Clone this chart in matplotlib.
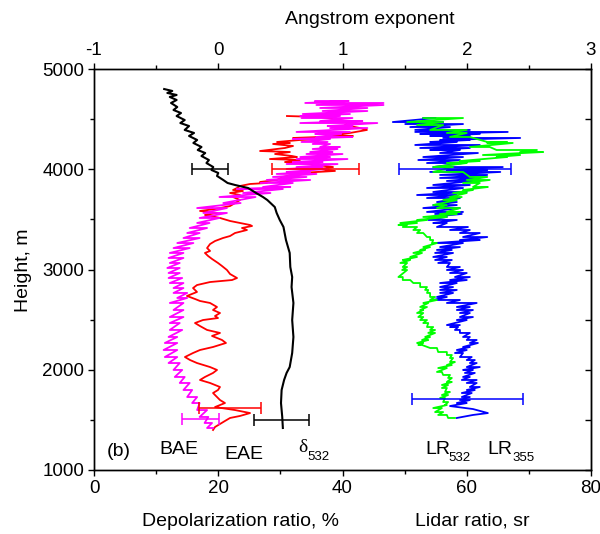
import numpy as np
import matplotlib
matplotlib.use('Agg')
import matplotlib.pyplot as plt
from matplotlib.ticker import MultipleLocator

plt.rcParams['font.family'] = 'Liberation Sans'
plt.rcParams['axes.unicode_minus'] = False

# --- data ---
# depolarization ratio delta_532, %
dep_h = [4800, 4781, 4761, 4741, 4721, 4691, 4661, 4621, 4591, 4561, 4531, 4491, 4461, 4431,
         4392, 4362, 4332, 4292, 4262, 4222, 4192, 4162, 4132, 4092, 4062, 4022, 3993, 3963,
         3933, 3893, 3863, 3843, 3813, 3763, 3723, 3693, 3623, 3564, 3494, 3424, 3294, 3165,
         3025, 2925, 2825, 2666, 2496, 2327, 2167, 2027, 1968, 1898, 1798, 1668, 1529, 1419]
dep_v = [11.3, 12.6, 11.8, 13.3, 12.2, 13.3, 12.4, 13.4, 12.8, 14.0, 13.3, 14.6, 13.9, 15.3,
         14.6, 16.1, 15.3, 16.6, 16.0, 17.3, 16.7, 17.9, 17.3, 18.5, 18.1, 19.2, 18.9, 20.0,
         19.8, 20.8, 21.5, 22.7, 24.8, 26.1, 27.2, 27.9, 29.1, 29.4, 29.9, 30.5, 30.9, 31.5,
         31.6, 31.9, 31.8, 32.1, 31.9, 32.1, 31.9, 31.5, 31.0, 30.6, 30.2, 30.1, 30.3, 30.4]

# extinction-related Angstrom exponent (EAE)
eae_h = [4531, 4521, 4501, 4471, 4441, 4411, 4392, 4362, 4342, 4332, 4322, 4312, 4302, 4292,
         4272, 4262, 4252, 4232, 4212, 4182, 4172, 4152, 4132, 4122, 4102, 4092, 4072, 4052,
         4022, 4003, 3983, 3963, 3923, 3893, 3873, 3863, 3853, 3833, 3813, 3793, 3783, 3763,
         3743, 3723, 3693, 3663, 3633, 3603, 3584, 3564, 3544, 3514, 3484, 3464, 3444, 3434,
         3414, 3394, 3364, 3334, 3314, 3284, 3254, 3214, 3185, 3165, 3135, 3105, 3065, 3035,
         2995, 2955, 2915, 2895, 2875, 2845, 2815, 2776, 2736, 2706, 2686, 2666, 2626, 2596,
         2566, 2536, 2516, 2496, 2466, 2436, 2397, 2367, 2337, 2297, 2267, 2227, 2197, 2167,
         2127, 2097, 2067, 2027, 1998, 1968, 1928, 1898, 1868, 1828, 1798, 1768, 1728, 1698,
         1668, 1628, 1598, 1568, 1539, 1519, 1489, 1459, 1429, 1399]
eae_v = [0.553, 0.819, 0.940, 1.060, 1.020, 1.141, 1.197, 1.060, 0.899, 1.084, 0.819, 0.602,
         0.875, 0.658, 0.473, 0.577, 0.441, 0.602, 0.537, 0.336, 0.577, 0.457, 0.594, 0.634,
         0.416, 0.658, 0.537, 0.738, 0.924, 0.819, 0.940, 0.658, 0.521, 0.473, 0.336, 0.392,
         0.256, 0.175, 0.151, 0.119, 0.199, 0.095, 0.175, 0.119, 0.175, 0.135, 0.095, -0.026,
         -0.147, -0.010, -0.107, 0.014, 0.095, 0.175, 0.256, 0.272, 0.191, 0.231, 0.135, 0.095,
         0.038, -0.026, -0.066, -0.090, -0.066, -0.107, -0.082, -0.050, -0.002, 0.030, 0.070,
         0.095, 0.151, 0.111, -0.066, -0.171, -0.203, -0.171, -0.252, -0.187, -0.147, -0.066,
         -0.010, -0.042, 0.014, -0.026, -0.002, -0.123, -0.187, -0.147, -0.090, 0.014, -0.050,
         0.030, 0.062, -0.042, -0.147, -0.203, -0.268, -0.227, -0.171, -0.066, -0.010, -0.042,
         -0.107, -0.147, -0.066, 0.014, -0.002, -0.042, -0.010, 0.014, 0.054, -0.026, 0.135,
         0.256, 0.175, 0.095, 0.054, 0.014, -0.026, -0.042]

# backscatter-related Angstrom exponent (BAE): noisy, low / high edge per level
bae_h = [4681, 4661, 4641, 4611, 4581, 4551, 4531, 4511, 4481, 4461, 4431,
         4411, 4372, 4352, 4322, 4302, 4272, 4252, 4222, 4202, 4172,
         4152, 4122, 4102, 4072, 4052, 4022, 4003, 3973, 3953, 3923,
         3893, 3863, 3823, 3803, 3763, 3723, 3663, 3613, 3564, 3514,
         3464, 3414, 3364, 3314, 3264, 3214, 3165, 3115, 3065, 3015,
         2965, 2915, 2865, 2815, 2766, 2716, 2666, 2596, 2526, 2466,
         2397, 2327, 2267, 2197, 2127, 2067, 1998, 1928, 1868, 1798,
         1728, 1668, 1598, 1529, 1469, 1419]
bae_lo = [0.78, 0.70, 0.79, 0.82, 0.84, 0.68, 0.66, 0.67, 0.82, 0.66, 0.88,
          0.90, 0.63, 0.78, 0.79, 0.60, 0.67, 0.76, 0.82, 0.76, 0.74,
          0.71, 0.66, 0.63, 0.60, 0.55, 0.63, 0.55, 0.55, 0.47, 0.44,
          0.39, 0.34, 0.36, 0.15, 0.20, 0.01, 0.04, -0.17, -0.12, -0.15,
          -0.17, -0.23, -0.25, -0.28, -0.33, -0.36, -0.39, -0.40, -0.39, -0.41,
          -0.40, -0.40, -0.39, -0.36, -0.36, -0.33, -0.39, -0.36, -0.39, -0.39,
          -0.39, -0.40, -0.43, -0.44, -0.43, -0.40, -0.36, -0.35, -0.31, -0.28,
          -0.25, -0.21, -0.17, -0.15, -0.11, -0.09]
bae_hi = [1.05, 1.33, 1.33, 1.20, 1.20, 1.06, 0.98, 1.08, 1.16, 1.28, 1.08,
          1.20, 1.06, 0.99, 1.08, 0.90, 0.88, 0.90, 0.98, 0.96, 0.92,
          1.00, 0.90, 1.04, 0.84, 0.96, 0.84, 0.88, 0.74, 0.79, 0.71,
          0.74, 0.60, 0.58, 0.52, 0.42, 0.30, 0.18, 0.07, 0.07, 0.01,
          -0.07, -0.09, -0.15, -0.15, -0.20, -0.23, -0.28, -0.28, -0.31, -0.31,
          -0.31, -0.29, -0.28, -0.28, -0.25, -0.25, -0.28, -0.28, -0.28, -0.31,
          -0.29, -0.33, -0.33, -0.33, -0.33, -0.31, -0.29, -0.27, -0.23, -0.21,
          -0.17, -0.15, -0.09, -0.08, -0.05, -0.04]

# lidar ratio at 355 nm, sr
lr355_h = [4511, 4471, 4451, 4421, 4392, 4372, 4352, 4332, 4312, 4292,
           4272, 4242, 4212, 4192, 4162, 4122, 4092, 4062, 4022, 3993,
           3973, 3943, 3913, 3883, 3843, 3813, 3773, 3743, 3713, 3673,
           3643, 3613, 3574, 3554, 3524, 3494, 3464, 3424, 3394, 3364,
           3324, 3294, 3264, 3224, 3195, 3165, 3125, 3095, 3065, 3025,
           2995, 2965, 2925, 2895, 2865, 2825, 2796, 2766, 2726, 2696,
           2666, 2626, 2596, 2566, 2526, 2496, 2446, 2426, 2397, 2367,
           2327, 2297, 2267, 2227, 2197, 2167, 2127, 2097, 2067, 2027,
           1998, 1968, 1928, 1898, 1868, 1828, 1798, 1768, 1728, 1698,
           1668, 1638, 1608, 1568, 1549, 1519]
lr355_lo = [53.0, 48.1, 50.1, 50.9, 51.7, 51.7, 52.5, 54.1, 56.2, 55.7,
            54.1, 51.7, 52.5, 54.1, 55.7, 53.0, 52.2, 53.6, 54.6, 56.8,
            54.1, 55.7, 55.7, 56.8, 54.6, 53.6, 54.6, 52.0, 53.6, 55.2,
            54.6, 53.0, 53.6, 54.9, 54.1, 53.8, 54.6, 55.2, 57.3, 58.9,
            59.4, 58.9, 54.9, 55.7, 55.2, 54.9, 54.6, 54.9, 55.4, 56.8,
            56.8, 57.3, 58.1, 57.3, 55.7, 55.7, 55.7, 55.7, 55.2, 54.6,
            56.8, 58.4, 58.4, 58.9, 58.9, 58.4, 56.8, 57.3, 58.1, 58.9,
            59.4, 60.0, 60.5, 59.4, 58.4, 58.1, 58.9, 60.0, 60.5, 60.0,
            59.4, 59.7, 59.4, 59.2, 60.0, 60.5, 60.0, 59.2, 59.2, 58.9,
            58.4, 57.3, 61.0, 63.4, 61.0, 58.4]
lr355_hi = [55.0, 56.2, 59.4, 57.3, 60.5, 66.6, 62.1, 60.5, 68.6, 60.5,
            58.4, 62.1, 60.5, 58.9, 61.8, 59.4, 58.9, 59.4, 65.8, 63.3,
            65.4, 63.3, 62.1, 61.0, 60.5, 59.4, 60.0, 58.4, 58.9, 58.4,
            58.4, 58.9, 59.4, 59.2, 56.8, 58.4, 56.8, 60.2, 60.5, 62.1,
            63.3, 62.1, 59.4, 58.9, 57.6, 57.8, 56.8, 57.6, 57.3, 58.9,
            59.4, 60.0, 60.5, 60.0, 58.4, 57.8, 58.4, 57.8, 56.8, 58.9,
            61.6, 60.5, 61.0, 60.5, 61.0, 60.0, 58.9, 58.6, 58.9, 60.5,
            60.5, 61.6, 61.8, 60.5, 60.0, 59.4, 60.8, 61.3, 61.6, 62.1,
            61.0, 61.3, 60.5, 61.6, 61.6, 62.1, 61.3, 60.8, 60.5, 60.5,
            60.0, 57.3, 61.0, 63.4, 61.0, 58.4]

# lidar ratio at 532 nm, sr
lr532_h = [4511, 4471, 4441, 4392, 4362, 4322, 4272, 4262, 4222, 4192,
           4172, 4142, 4122, 4082, 4062, 4022, 3973, 3923, 3893, 3863,
           3823, 3793, 3763, 3723, 3693, 3643, 3613, 3574, 3554, 3524,
           3494, 3464, 3444, 3424, 3394, 3364, 3324, 3294, 3264, 3224,
           3195, 3165, 3125, 3095, 3065, 3025, 2995, 2925, 2895, 2865,
           2825, 2796, 2766, 2726, 2696, 2666, 2626, 2596, 2566, 2526,
           2496, 2466, 2426, 2397, 2367, 2327, 2297, 2267, 2247, 2217,
           2177, 2147, 2117, 2077, 2047, 2017, 1978, 1948, 1918, 1878,
           1848, 1818, 1778, 1748, 1718, 1678, 1648, 1618, 1578, 1549, 1519]
lr532_lo = [53.0, 50.4, 52.0, 54.1, 56.8, 57.3, 63.3, 63.3, 60.5, 64.8,
            68.6, 62.6, 64.8, 58.9, 56.8, 54.6, 54.6, 60.5, 60.0, 59.4,
            61.0, 59.4, 57.8, 57.3, 56.2, 54.6, 55.2, 56.8, 55.7, 53.0,
            52.0, 49.3, 49.0, 49.7, 51.4, 52.0, 53.6, 54.1, 54.4, 53.0,
            52.5, 51.4, 50.9, 49.7, 49.3, 49.7, 49.6, 49.0, 49.7, 51.4,
            52.5, 53.3, 53.6, 54.1, 54.1, 53.0, 52.5, 52.5, 52.0, 52.2,
            52.5, 53.0, 53.6, 54.1, 53.8, 53.3, 52.8, 52.0, 52.2, 54.1,
            55.4, 56.8, 57.3, 57.3, 56.8, 55.4, 55.2, 56.2, 57.0, 56.8,
            56.0, 56.0, 56.5, 56.0, 55.7, 56.2, 56.5, 54.6, 54.9, 55.4, 57.0]
lr532_hi = [59.4, 56.2, 56.2, 60.0, 60.0, 60.5, 66.5, 67.4, 63.7, 71.3,
            72.3, 68.6, 66.5, 62.1, 60.0, 57.8, 59.4, 63.3, 63.7, 62.1,
            63.4, 61.0, 60.0, 59.2, 58.4, 56.8, 58.9, 58.9, 58.4, 56.8,
            53.6, 52.0, 50.4, 52.0, 52.5, 53.0, 54.1, 54.6, 55.2, 54.1,
            53.3, 52.8, 52.0, 50.9, 50.4, 50.4, 50.4, 49.7, 50.9, 52.5,
            53.6, 53.8, 54.1, 54.9, 55.2, 53.8, 53.6, 53.0, 53.0, 53.0,
            53.6, 53.8, 54.6, 54.9, 54.9, 54.1, 53.8, 53.0, 52.8, 55.2,
            56.8, 57.6, 57.8, 58.1, 57.6, 56.8, 56.0, 57.3, 57.6, 57.6,
            57.0, 56.8, 57.3, 57.0, 56.5, 57.0, 56.8, 56.0, 56.2, 56.8, 58.1]

# error bars: height, value, half width
dep_err_h = [4003, 1499]
dep_err_v = [18.7, 30.2]
dep_err_x = [2.9, 4.4]
lr355_err_h = [4003, 1708]
lr355_err_v = [58.1, 60.1]
lr355_err_x = [9.0, 8.9]
eae_err_h = [4003, 1618]
eae_err_v = [0.78, 0.095]
eae_err_x = [0.35, 0.25]
bae_err_h = [1505]
bae_err_v = [-0.14]
bae_err_x = [0.15]


def zigzag(h, lo, hi):
    # noisy profile: go lo -> hi at each level
    return np.column_stack([lo, hi]).ravel(), np.repeat(h, 2)


fig = plt.figure(figsize=(6, 5.34), dpi=100)
ax = fig.add_axes([94 / 600, 1 - 470 / 534, 497 / 600, 401 / 534])
ax2 = ax.twiny()
ax.set_zorder(ax2.get_zorder() + 1)
ax.patch.set_visible(False)

lw = 1.3
eb = dict(fmt='none', elinewidth=1.1, capsize=4, capthick=1.1)
# Angstrom exponents on the top axis
ax2.plot(eae_v, eae_h, color='#ff0000', lw=lw)
x, y = zigzag(bae_h, bae_lo, bae_hi)
ax2.plot(x, y, color='#ff00ff', lw=lw)
ax2.errorbar(eae_err_v, eae_err_h, xerr=eae_err_x, ecolor='#ff0000', **eb)
ax2.errorbar(bae_err_v, bae_err_h, xerr=bae_err_x, ecolor='#ff00ff', **eb)

# depolarization and lidar ratios on the bottom axis
x, y = zigzag(lr355_h, lr355_lo, lr355_hi)
ax.plot(x, y, color='#0000ff', lw=lw)
x, y = zigzag(lr532_h, lr532_lo, lr532_hi)
ax.plot(x, y, color='#00ff00', lw=lw)
ax.plot(dep_v, dep_h, color='black', lw=1.5)
ax.errorbar(dep_err_v, dep_err_h, xerr=dep_err_x, ecolor='black', **eb)
ax.errorbar(lr355_err_v, lr355_err_h, xerr=lr355_err_x, ecolor='#0000ff', **eb)

ax.set_xlim(0, 80)
ax.set_ylim(1000, 5000)
ax2.set_xlim(-1, 3)

ax.xaxis.set_major_locator(MultipleLocator(20))
ax.xaxis.set_minor_locator(MultipleLocator(10))
ax.yaxis.set_major_locator(MultipleLocator(1000))
ax.yaxis.set_minor_locator(MultipleLocator(500))
ax2.xaxis.set_major_locator(MultipleLocator(1))
ax2.xaxis.set_minor_locator(MultipleLocator(0.5))

for a in (ax, ax2):
    for s in a.spines.values():
        s.set_linewidth(1.0)
ax.tick_params(which='both', direction='out', top=False, right=False, labelsize=13.5, width=1.0)
ax.tick_params(which='major', length=4, pad=3)
ax.tick_params(which='minor', length=3)
ax2.tick_params(which='both', direction='out', labelsize=13.5, width=1.0)
ax2.tick_params(which='major', length=4, pad=3)
ax2.tick_params(which='minor', length=3)

sec = ax.secondary_yaxis('right')
sec.yaxis.set_major_locator(MultipleLocator(1000))
sec.yaxis.set_minor_locator(MultipleLocator(500))
sec.tick_params(which='both', direction='in', labelright=False, length=4, width=1.0)

# labels
fig.text(24 / 600, 1 - 270 / 534, 'Height, m', rotation=90, fontsize=14, ha='center', va='center')
fig.text(241 / 600, 1 - 521 / 534, 'Depolarization ratio, %', fontsize=14, ha='center', va='center')
fig.text(472 / 600, 1 - 521 / 534, 'Lidar ratio, sr', fontsize=14, ha='center', va='center')
fig.text(370 / 600, 1 - 19 / 534, 'Angstrom exponent', fontsize=14, ha='center', va='center')

ax.text(2.1, 1180, '(b)', fontsize=14, va='center')
ax.text(13.7, 1200, 'BAE', fontsize=14, ha='center', va='center')
ax.text(24.1, 1150, 'EAE', fontsize=14, ha='center', va='center')
ax.text(32.8, 1220, 'δ', family='Liberation Serif', fontsize=14, va='center')
ax.text(34.4, 1130, '532', fontsize=9.5, va='center')
ax.text(53.3, 1200, 'LR', fontsize=14, va='center')
ax.text(57.0, 1120, '532', fontsize=9.5, va='center')
ax.text(63.3, 1200, 'LR', fontsize=14, va='center')
ax.text(67.3, 1120, '355', fontsize=9.5, va='center')

fig.savefig('out.png', dpi=100)
